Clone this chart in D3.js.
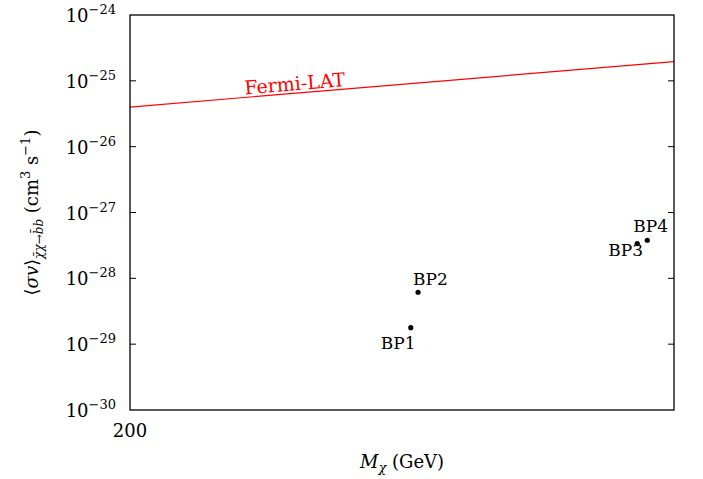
<!DOCTYPE html>
<html>
<head>
<meta charset="utf-8">
<script src="https://cdn.jsdelivr.net/npm/d3@7"></script>
<style>
  body { margin: 0; background: #fff; }
  svg text { font-family: "DejaVu Serif", "Liberation Serif", serif; }
</style>
</head>
<body>
<svg id="chart" width="703" height="479"></svg>
<script>
// benchmark points
var points = ["BP1", "BP2", "BP3", "BP4"],
  masses = [459, 469, 897, 924],
  sigmav = [1.78e-29, 6.15e-29, 3.37e-28, 3.79e-28];

// Fermi-LAT limit (end points of the straight line)
var fermiMass = [200, 1000],
  fermiLimit = [4.0e-26, 1.96e-25];

var yTickExp = [-30, -29, -28, -27, -26, -25, -24],
  xTicks = [200];

var svg = d3.select("#chart"),
  margin = {left: 130, right: 29, top: 15, bottom: 69},
  width = +svg.attr("width"),
  height = +svg.attr("height");

var x = d3.scaleLog()
    .domain([200, 1000])
    .range([margin.left, width - margin.right]),
  y = d3.scaleLog()
    .domain([1e-30, 1e-24])
    .range([height - margin.bottom, margin.top]);

// y ticks, inside on both sides
var inner = yTickExp.slice(1, -1);
svg.append("g")
  .selectAll("line.l")
  .data(inner)
  .enter().append("line")
    .attr("x1", x.range()[0]).attr("x2", x.range()[0] + 6)
    .attr("y1", function(e) { return y(Math.pow(10, e)); })
    .attr("y2", function(e) { return y(Math.pow(10, e)); })
    .attr("stroke", "#000").attr("stroke-width", 1);
svg.append("g")
  .selectAll("line.r")
  .data(inner)
  .enter().append("line")
    .attr("x1", x.range()[1]).attr("x2", x.range()[1] - 6)
    .attr("y1", function(e) { return y(Math.pow(10, e)); })
    .attr("y2", function(e) { return y(Math.pow(10, e)); })
    .attr("stroke", "#000").attr("stroke-width", 1);

// y tick labels 10^n
var lab = svg.append("g")
  .selectAll("text")
  .data(yTickExp)
  .enter().append("text")
    .attr("x", margin.left - 14)
    .attr("y", function(e) { return y(Math.pow(10, e)) + 7; })
    .attr("text-anchor", "end")
    .style("font-size", "18px");
lab.append("tspan").text("10");
lab.append("tspan")
  .attr("dy", -8)
  .style("font-size", "13px")
  .text(function(e) { return "\u2212" + Math.abs(e); });

// x tick label
svg.append("g")
  .selectAll("text")
  .data(xTicks)
  .enter().append("text")
    .attr("x", function(d) { return x(d); })
    .attr("y", height - margin.bottom + 27)
    .attr("text-anchor", "middle")
    .style("font-size", "18px")
    .text(function(d) { return d; });

// Fermi-LAT line
var line = d3.line()
  .x(function(d, i) { return x(fermiMass[i]); })
  .y(function(d) { return y(d); });
svg.append("path")
  .datum(fermiLimit)
  .attr("d", line)
  .attr("fill", "none")
  .attr("stroke", "#ff0000")
  .attr("stroke-width", 1.2);

var x0 = x(fermiMass[0]), y0 = y(fermiLimit[0]),
  x1 = x(fermiMass[1]), y1 = y(fermiLimit[1]),
  ang = Math.atan2(y1 - y0, x1 - x0) * 180 / Math.PI,
  lx = 245, ly = y0 + (y1 - y0) * (lx - x0) / (x1 - x0) - 3;
svg.append("text")
  .attr("transform", "translate(" + lx + "," + ly + ") rotate(" + ang + ")")
  .attr("fill", "#ff0000")
  .style("font-size", "19px")
  .text("Fermi-LAT");

// frame
svg.append("rect")
  .attr("x", margin.left).attr("y", margin.top)
  .attr("width", width - margin.left - margin.right)
  .attr("height", height - margin.top - margin.bottom)
  .attr("fill", "none")
  .attr("stroke", "#000")
  .attr("stroke-width", 1.3);

// benchmark points
svg.append("g")
  .selectAll("circle")
  .data(points)
  .enter().append("circle")
    .attr("cx", function(d, i) { return x(masses[i]); })
    .attr("cy", function(d, i) { return y(sigmav[i]); })
    .attr("r", 2.6)
    .attr("fill", "#000");

// label offsets: above-right for BP2/BP4, below-left for BP1/BP3
var offs = {BP1: [-30, 21], BP2: [-5, -7], BP3: [-29, 12], BP4: [-14, -8]};
svg.append("g")
  .selectAll("text")
  .data(points)
  .enter().append("text")
    .attr("x", function(d, i) { return x(masses[i]) + offs[d][0]; })
    .attr("y", function(d, i) { return y(sigmav[i]) + offs[d][1]; })
    .style("font-size", "17px")
    .text(function(d) { return d; });

// axis titles
var xl = svg.append("text")
  .attr("x", (x.range()[0] + x.range()[1]) / 2)
  .attr("y", height - 11)
  .attr("text-anchor", "middle")
  .style("font-size", "18px");
xl.append("tspan").style("font-style", "italic").text("M");
xl.append("tspan").attr("dy", 4).style("font-size", "13px").style("font-style", "italic").text("\u03c7");
xl.append("tspan").attr("dy", -4).text(" (GeV)");

var yl = svg.append("text")
  .attr("transform", "translate(38," + ((y.range()[0] + y.range()[1]) / 2) + ") rotate(-90)")
  .attr("text-anchor", "middle")
  .style("font-size", "18px");
yl.append("tspan").text("\u27e8");
yl.append("tspan").style("font-style", "italic").text("\u03c3v");
yl.append("tspan").text("\u27e9");
yl.append("tspan").attr("dy", 5).style("font-size", "12px").style("font-style", "italic")
  .text("\u03c7\u0304\u03c7\u2192b\u0304b");
yl.append("tspan").attr("dy", -5).text(" (cm");
yl.append("tspan").attr("dy", -8).style("font-size", "13px").text("3");
yl.append("tspan").attr("dy", 8).text(" s");
yl.append("tspan").attr("dy", -8).style("font-size", "13px").text("\u22121");
yl.append("tspan").attr("dy", 8).text(")");
</script>
</body>
</html>
